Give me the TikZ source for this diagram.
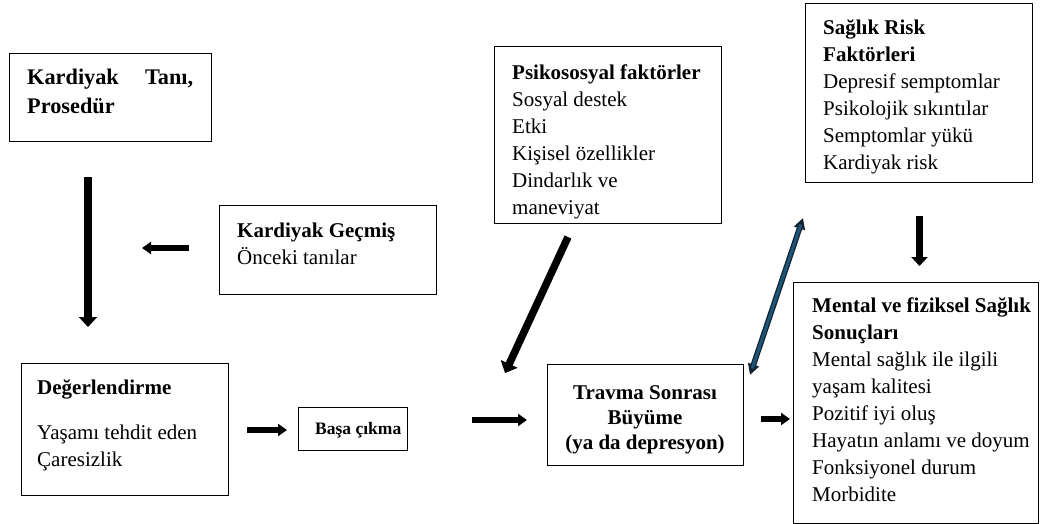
\documentclass[tikz,border=0pt]{standalone}
\usepackage{fontspec}
\setmainfont{Liberation Serif}
\usetikzlibrary{arrows.meta,calc}
\definecolor{dblue}{RGB}{28,85,120}
\definecolor{dedge}{RGB}{20,35,50}
\begin{document}
\begin{tikzpicture}[x=1pt,y=-1pt,
  box/.style={draw=black, line width=1.2pt, inner sep=0pt, anchor=north west},
  txt/.style={inner sep=0pt, anchor=north west, align=left, font=\fontsize{21}{27}\selectfont},
  fat/.style={line width=7.5pt, -{Triangle[length=10pt,width=18pt]}},
  fatsm/.style={line width=6pt, -{Triangle[length=9pt,width=12pt]}},
  dblout/.style={line width=5.6pt, dedge, {Triangle[length=11pt,width=11pt]}-{Triangle[length=11pt,width=11pt]}},
  dblin/.style={line width=3pt, dblue, shorten <=7pt, shorten >=7pt}]
\useasboundingbox (0,0) rectangle (1040,524);

% boxes
\node[box, minimum width=202pt, minimum height=88pt] (A) at (9,53) {};
\node[box, minimum width=217pt, minimum height=89pt] (B) at (219,205) {};
\node[box, minimum width=227pt, minimum height=177pt] (C) at (494,46) {};
\node[box, minimum width=227pt, minimum height=179pt] (D) at (805,3) {};
\node[box, minimum width=245pt, minimum height=241pt] (E) at (793,282) {};
\node[box, minimum width=207pt, minimum height=132pt] (F) at (21,363) {};
\node[box, minimum width=109pt, minimum height=43pt] (G) at (298,407) {};
\node[box, minimum width=196pt, minimum height=101pt] (H) at (547,364) {};

% texts
\node[txt, font=\fontsize{22.3}{29}\selectfont] (At) at (27,63.7) {\strut\makebox[166pt][s]{\bfseries Kardiyak Tanı,}\\\textbf{Prosedür}};
\node[txt] (Bt) at (237,218.1) {\strut\textbf{Kardiyak Geçmiş}\\Önceki tanılar};
\node[txt] (Ct) at (512,60.1) {\strut\textbf{Psikososyal faktörler}\\Sosyal destek\\Etki\\Kişisel özellikler\\Dindarlık ve\\maneviyat};
\node[txt] (Dt) at (823,15.1) {\strut\textbf{Sağlık Risk}\\\textbf{Faktörleri}\\Depresif semptomlar\\Psikolojik sıkıntılar\\Semptomlar yükü\\Kardiyak risk};
\node[txt] (Et) at (812,293.1) {\strut\textbf{Mental ve fiziksel Sağlık}\\\textbf{Sonuçları}\\Mental sağlık ile ilgili\\yaşam kalitesi\\Pozitif iyi oluş\\Hayatın anlamı ve doyum\\Fonksiyonel durum\\Morbidite};
\node[txt] (Ft) at (37,375.1) {\strut\textbf{Değerlendirme}\\[18pt]Yaşamı tehdit eden\\Çaresizlik};
\node[txt, font=\fontsize{17.5}{22}\selectfont] (Gt) at (315,418.6) {\strut\textbf{Başa çıkma}};
\node[txt, anchor=north, align=center] (Ht) at (645,380.1) {\strut\textbf{Travma Sonrası}\\[-2pt]\textbf{Büyüme}\\[-2pt]\textbf{(ya da depresyon)}};

% arrow end points
\coordinate (a1) at (88,177);   \coordinate (a2) at (88,327);
\coordinate (b1) at (189,248);  \coordinate (b2) at (142,248);
\coordinate (f1) at (247,430);  \coordinate (f2) at (287,430);
\coordinate (g1) at (472,420);  \coordinate (g2) at (527,420);
\coordinate (h1) at (761,419);  \coordinate (h2) at (790,419);
\coordinate (c1) at (568,237);  \coordinate (c2) at (505,373);
\coordinate (d1) at (919.5,216);\coordinate (d2) at (919.5,266);
\coordinate (e1) at (750,375);  \coordinate (e2) at (803,218);

% connectors
\draw[fat] (a1) -- (a2);
\draw[fatsm] (b1) -- (b2);
\draw[fatsm] (f1) -- (f2);
\draw[fatsm] (g1) -- (g2);
\draw[fatsm] (h1) -- (h2);
\draw[fat] (c1) -- (c2);
\draw[fat, -{Triangle[length=9pt,width=16pt]}] (d1) -- (d2);
\draw[dblout] (e1) -- (e2);
\draw[dblin] (e1) -- (e2);
\end{tikzpicture}
\end{document}
